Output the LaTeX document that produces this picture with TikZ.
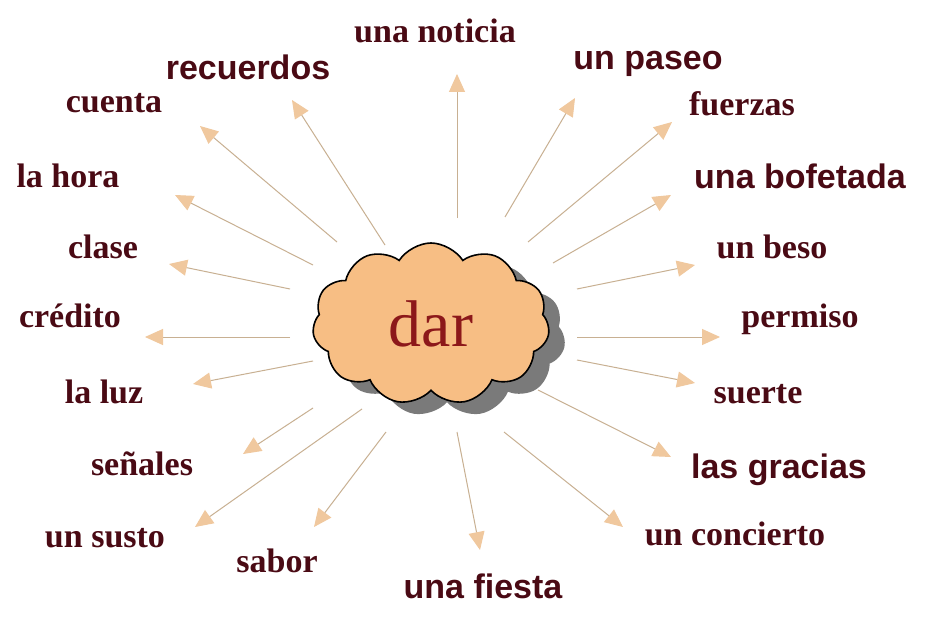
\documentclass[tikz,border=0pt]{standalone}
\usepackage{fontspec}
\setmainfont{Liberation Serif}
\newfontfamily\lblsans{Liberation Sans}
\usetikzlibrary{shapes.symbols,shadows,arrows.meta}

\definecolor{cloudfill}{RGB}{247,190,132}
\definecolor{cloudshade}{RGB}{122,122,122}
\definecolor{darred}{RGB}{140,24,26}
\definecolor{wordred}{RGB}{74,10,20}
\definecolor{linetan}{RGB}{200,176,146}
\definecolor{tippeach}{RGB}{240,200,158}

\tikzset{
  lbl/.style={anchor=base,inner sep=0pt,text=wordred,font=\fontsize{34}{36}\selectfont\bfseries},
  lblss/.style={lbl,font=\fontsize{34}{36}\selectfont\lblsans\bfseries},
  arr/.style={draw=linetan,line width=1pt,-{Triangle[length=18pt,width=16pt,color=tippeach]}},
  puffy/.style={cloud,cloud puffs=11,cloud puff arc=115,aspect=1.5,draw=black,line width=1.6pt,
    fill=cloudfill,minimum width=237pt,minimum height=162pt,inner sep=0pt,
    drop shadow={shadow xshift=16pt,shadow yshift=-12pt,fill=cloudshade,opacity=1}}
}

\begin{document}
\begin{tikzpicture}[x=1pt,y=-1pt]
	\fill[white] (0,0) rectangle (938,626);
	\useasboundingbox (0,0) rectangle (938,626);
	% cloud in the middle
	\node[puffy,text=darred,font=\fontsize{66}{70}\selectfont] (dar) at (431,324) {dar};
	% words round it
	\node[lbl] (noticia) at (435,43) {una noticia};
	\node[lblss] (recuerdos) at (248,80) {recuerdos};
	\node[lblss] (paseo) at (648,70) {un paseo};
	\node[lbl] (cuenta) at (114,113) {cuenta};
	\node[lbl] (fuerzas) at (742,115) {fuerzas};
	\node[lbl] (hora) at (68,187) {la hora};
	\node[lblss] (bofetada) at (800,188) {una bofetada};
	\node[lbl] (clase) at (103,258) {clase};
	\node[lbl] (beso) at (772,258) {un beso};
	\node[lbl] (credito) at (70,327) {crédito};
	\node[lbl] (permiso) at (800,327) {permiso};
	\node[lbl] (luz) at (104,403) {la luz};
	\node[lbl] (suerte) at (758,403) {suerte};
	\node[lbl] (senales) at (142,475) {señales};
	\node[lblss] (gracias) at (779,478) {las gracias};
	\node[lbl] (susto) at (105,547) {un susto};
	\node[lbl] (concierto) at (735,545) {un concierto};
	\node[lbl] (sabor) at (277,572) {sabor};
	\node[lblss] (fiesta) at (483,598) {una fiesta};
	% arrows, tail then head
	\foreach \nm/\tx/\ty/\hx/\hy in {noticia/457/218/457/74, paseo/505/217/575/98,
	    fuerzas/528/242/672/122, bofetada/553/263/671/195, beso/577/289/695/265,
	    permiso/577/337/720/337, suerte/577/360/695/383, gracias/538/390/671/457,
	    concierto/504/432/623/527, fiesta/457/432/480/550, sabor/386/432/314/527,
	    susto/362/409/195/527, senales/313/408/243/454, luz/313/361/193/384,
	    credito/290/337/145/337, clase/290/289/169/264, hora/313/265/175/195,
	    cuenta/337/242/200/126, recuerdos/385/245/292/100}{
		\coordinate (\nm-t) at (\tx,\ty);
		\coordinate (\nm-h) at (\hx,\hy);
		\draw[arr] (\nm-t) -- (\nm-h);
	}
\end{tikzpicture}
\end{document}
